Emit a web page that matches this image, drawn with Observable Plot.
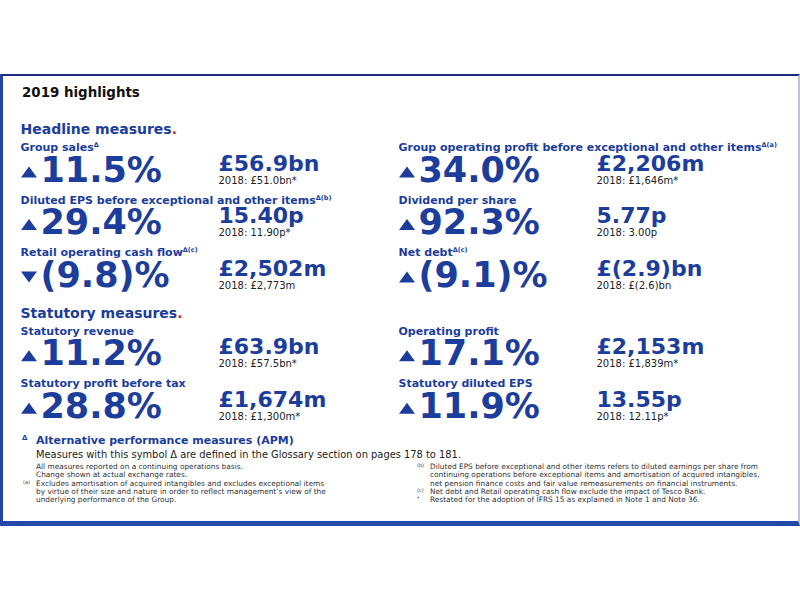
<!DOCTYPE html>
<html><head><meta charset="utf-8">
<script src="https://cdn.jsdelivr.net/npm/d3@7"></script>
<script src="https://cdn.jsdelivr.net/npm/@observablehq/plot@0.6"></script>
<style>
html,body{margin:0;padding:0;background:#fff;}
#page{position:relative;width:800px;height:600px;overflow:hidden;font-family:"DejaVu Sans",sans-serif;}
#frame{position:absolute;left:0;top:74px;width:800px;height:452px;box-sizing:border-box;border-top:2px solid #1d2a80;border-left:3px solid #2444a6;border-right:2px solid #c4bfdc;border-bottom:5px solid #2449a8;}
#title{position:absolute;left:22px;top:85px;font-weight:bold;font-size:13.4px;color:#111;line-height:16px;white-space:nowrap;}
#chart{position:absolute;left:0;top:110px;}
.apm{position:absolute;left:36px;top:434px;font-size:11px;line-height:14px;font-weight:bold;color:#1c3d9b;white-space:nowrap;}
.apm .tri{position:absolute;left:-14px;top:-3px;font-size:7px;}
.apmsub{position:absolute;left:36px;top:449px;font-size:9.9px;line-height:12px;color:#222;white-space:nowrap;}
.notes{position:absolute;font-size:7.4px;line-height:8.3px;color:#333;white-space:nowrap;}
.note{position:relative;}
.note .mk{position:absolute;left:-13px;top:-2px;font-size:5px;}
</style>
</head><body><div id="page">
<div id="frame"></div>
<div id="title"></div>
<div id="chart"></div>
<div class="apm"><span class="tri">Δ</span><span id="apmTitle"></span></div>
<div class="apmsub" id="apmSub"></div>
<div class="notes" id="notesL" style="left:36px;top:463px;"></div>
<div class="notes" id="notesR" style="left:430px;top:463px;"></div>
</div>
<script>
// ---- data ----
const title = "2019 highlights";
const sectionNames = ["Headline measures", "Statutory measures"];
const sectionRows = [0, 3.5];
const sectionCols = [0, 0];

const labels = [
  "Group sales",
  "Diluted EPS before exceptional and other items",
  "Retail operating cash flow",
  "Group operating profit before exceptional and other items",
  "Dividend per share",
  "Net debt",
  "Statutory revenue",
  "Statutory profit before tax",
  "Operating profit",
  "Statutory diluted EPS"
];
const sups = ["Δ", "Δ(b)", "Δ(c)", "Δ(a)", "", "Δ(c)", "", "", "", ""];
const changes = ["11.5%", "29.4%", "(9.8)%", "34.0%", "92.3%", "(9.1)%", "11.2%", "28.8%", "17.1%", "11.9%"];
const directions = ["up", "up", "down", "up", "up", "up", "up", "up", "up", "up"];
const values = ["£56.9bn", "15.40p", "£2,502m", "£2,206m", "5.77p", "£(2.9)bn", "£63.9bn", "£1,674m", "£2,153m", "13.55p"];
const priors = ["2018: £51.0bn*", "2018: 11.90p*", "2018: £2,773m", "2018: £1,646m*", "2018: 3.00p", "2018: £(2.6)bn",
                "2018: £57.5bn*", "2018: £1,300m*", "2018: £1,839m*", "2018: 12.11p*"];
const cols = [0, 0, 0, 1, 1, 1, 0, 0, 1, 1];
const rows = [0, 1, 2, 0, 1, 2, 3.5, 4.5, 3.5, 4.5];

const apmTitle = "Alternative performance measures (APM)";
const apmSub = "Measures with this symbol Δ are defined in the Glossary section on pages 178 to 181.";
const notesLeft = [
  {mark: "", lines: ["All measures reported on a continuing operations basis.", "Change shown at actual exchange rates."]},
  {mark: "(a)", lines: ["Excludes amortisation of acquired intangibles and excludes exceptional items",
    "by virtue of their size and nature in order to reflect management’s view of the",
    "underlying performance of the Group."]}
];
const notesRight = [
  {mark: "(b)", lines: ["Diluted EPS before exceptional and other items refers to diluted earnings per share from",
    "continuing operations before exceptional items and amortisation of acquired intangibles,",
    "net pension finance costs and fair value remeasurements on financial instruments."]},
  {mark: "(c)", lines: ["Net debt and Retail operating cash flow exclude the impact of Tesco Bank."]},
  {mark: "*", lines: ["Restated for the adoption of IFRS 15 as explained in Note 1 and Note 36."]}
];

// ---- build ----
const BLUE = "#1c3d9b";
const RED = "#e2232c";
const items = labels.map((label, i) => ({
  label, sup: sups[i], change: changes[i], dir: directions[i],
  value: values[i], prior: priors[i], col: cols[i], row: rows[i]
}));
const sections = sectionNames.map((name, i) => ({name, row: sectionRows[i], col: sectionCols[i]}));

const triUp = {draw(ctx, size) { const r = Math.sqrt(size / Math.PI), h = r * 0.7;
  ctx.moveTo(0, -h); ctx.lineTo(r, h); ctx.lineTo(-r, h); ctx.closePath(); }};
const triDown = {draw(ctx, size) { const r = Math.sqrt(size / Math.PI), h = r * 0.7;
  ctx.moveTo(0, h); ctx.lineTo(r, -h); ctx.lineTo(-r, -h); ctx.closePath(); }};

const svg = Plot.plot({
  width: 800, height: 320, margin: 0,
  style: {fontFamily: "DejaVu Sans", background: "transparent", overflow: "visible"},
  x: {domain: [0, 1], range: [20, 398], axis: null},
  y: {domain: [0, 4.5], range: [37, 273.25], axis: null},
  marks: [
    Plot.text(sections, {x: "col", y: "row", text: "name", dy: -18, textAnchor: "start",
      fontSize: 14, fontWeight: "bold", fill: BLUE}),
    Plot.text(items, {x: "col", y: "row", text: "label", textAnchor: "start",
      fontSize: 11, fontWeight: "bold", fill: BLUE}),
    Plot.dot(items, {filter: d => d.dir === "up", x: "col", y: "row", dx: 8.5, dy: 24.5, r: 8, symbol: triUp, fill: BLUE, stroke: "none"}),
    Plot.dot(items, {filter: d => d.dir === "down", x: "col", y: "row", dx: 8.5, dy: 24.5, r: 8, symbol: triDown, fill: BLUE, stroke: "none"}),
    Plot.text(items, {x: "col", y: "row", text: "change", dx: 20, dy: 23, textAnchor: "start",
      fontSize: 35, fontWeight: "bold", fill: BLUE}),
    Plot.text(items, {x: "col", y: "row", text: "value", dx: 198, dy: 16, textAnchor: "start",
      fontSize: 22, fontWeight: "bold", fill: BLUE}),
    Plot.text(items, {x: "col", y: "row", text: "prior", dx: 198, dy: 33, textAnchor: "start",
      fontSize: 10, fill: "#222"})
  ]
});

// superscripts and red full stops
const supByLabel = new Map(items.map(d => [d.label, d.sup]));
d3.select(svg).selectAll("text").each(function() {
  const t = this.textContent;
  if (supByLabel.has(t) && supByLabel.get(t)) {
    d3.select(this).append("tspan").attr("dy", -4).attr("font-size", 6.5).text(supByLabel.get(t));
  }
  if (sectionNames.includes(t)) {
    d3.select(this).append("tspan").attr("fill", RED).text(".");
  }
});
document.getElementById("chart").appendChild(svg);

document.getElementById("title").textContent = title;
document.getElementById("apmTitle").textContent = apmTitle;
document.getElementById("apmSub").textContent = apmSub;
function renderNotes(el, notes) {
  const root = d3.select(el);
  for (const n of notes) {
    const div = root.append("div").attr("class", "note");
    if (n.mark) div.append("span").attr("class", "mk").text(n.mark);
    n.lines.forEach((l, i) => { if (i) div.append("br"); div.append("span").text(l); });
  }
}
renderNotes(document.getElementById("notesL"), notesLeft);
renderNotes(document.getElementById("notesR"), notesRight);
</script>
</body></html>
